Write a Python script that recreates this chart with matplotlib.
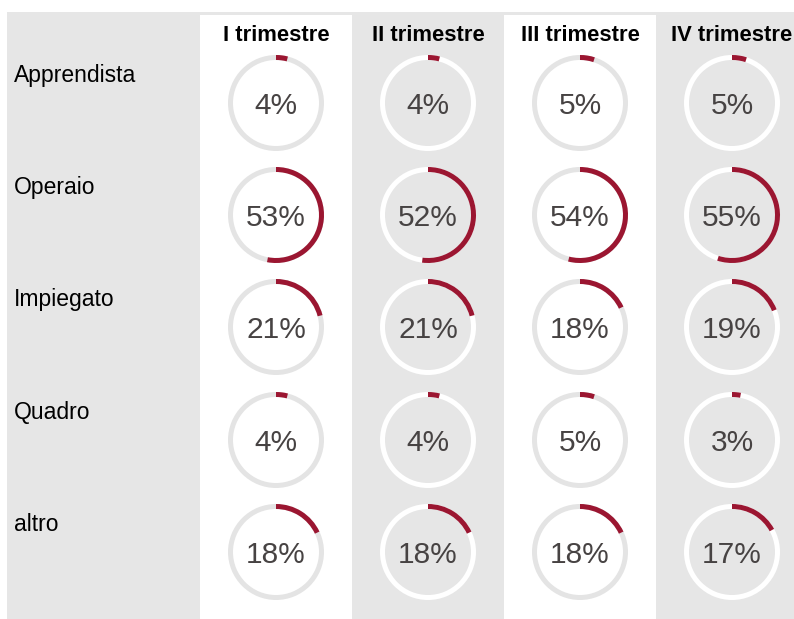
import matplotlib.pyplot as plt
from matplotlib.patches import Rectangle, Wedge

categorie = ['Apprendista', 'Operaio', 'Impiegato', 'Quadro', 'altro']
trimestri = ['I trimestre', 'II trimestre', 'III trimestre', 'IV trimestre']
trim_1 = [4, 53, 21, 4, 18]
trim_2 = [4, 52, 21, 4, 18]
trim_3 = [5, 54, 18, 5, 18]
trim_4 = [5, 55, 19, 3, 17]
valori = [trim_1, trim_2, trim_3, trim_4]

W, H = 794, 619
grigio = '#e6e6e6'
rosso = '#9b1631'
anello_chiaro = '#e4e4e4'

fig = plt.figure(figsize=(W / 100, H / 100), dpi=100)
ax = fig.add_axes([0, 0, 1, 1])
ax.set_xlim(0, W)
ax.set_ylim(H, 0)
ax.axis('off')

# sfondo grigio + colonne bianche alterne
ax.add_patch(Rectangle((7, 12), W - 7, H - 12, color=grigio, lw=0))
col_x = [276, 428, 580, 732]
row_y = [103, 215, 327, 440, 552]
col_w = 152
for j, cx in enumerate(col_x):
    if j % 2 == 0:
        ax.add_patch(Rectangle((cx - col_w / 2, 15), col_w, H - 15, color='white', lw=0))

R, spessore = 48, 5
for j, (cx, nome) in enumerate(zip(col_x, trimestri)):
    ax.text(cx, 41, nome, ha='center', va='baseline', fontsize=15.8,
            fontweight='bold', color='black', family='Liberation Sans')
    sfondo_anello = anello_chiaro if j % 2 == 0 else 'white'
    for i, cy in enumerate(row_y):
        v = valori[j][i]
        ax.add_patch(Wedge((cx, cy), R, 0, 360, width=spessore, color=sfondo_anello, lw=0))
        # l'asse y è invertito, quindi gli angoli crescono in senso orario
        ax.add_patch(Wedge((cx, cy), R, -90, -90 + 360 * v / 100, width=spessore,
                           color=rosso, lw=0))
        ax.text(cx, cy + 11, f'{v}%', ha='center', va='baseline', fontsize=21.5,
                color='#474343', family='Liberation Sans')

for i, (cy, nome) in enumerate(zip(row_y, categorie)):
    ax.text(14, cy - 21, nome, ha='left', va='baseline', fontsize=16.5,
            color='black', family='Liberation Sans')

plt.savefig('out.png', dpi=100)
